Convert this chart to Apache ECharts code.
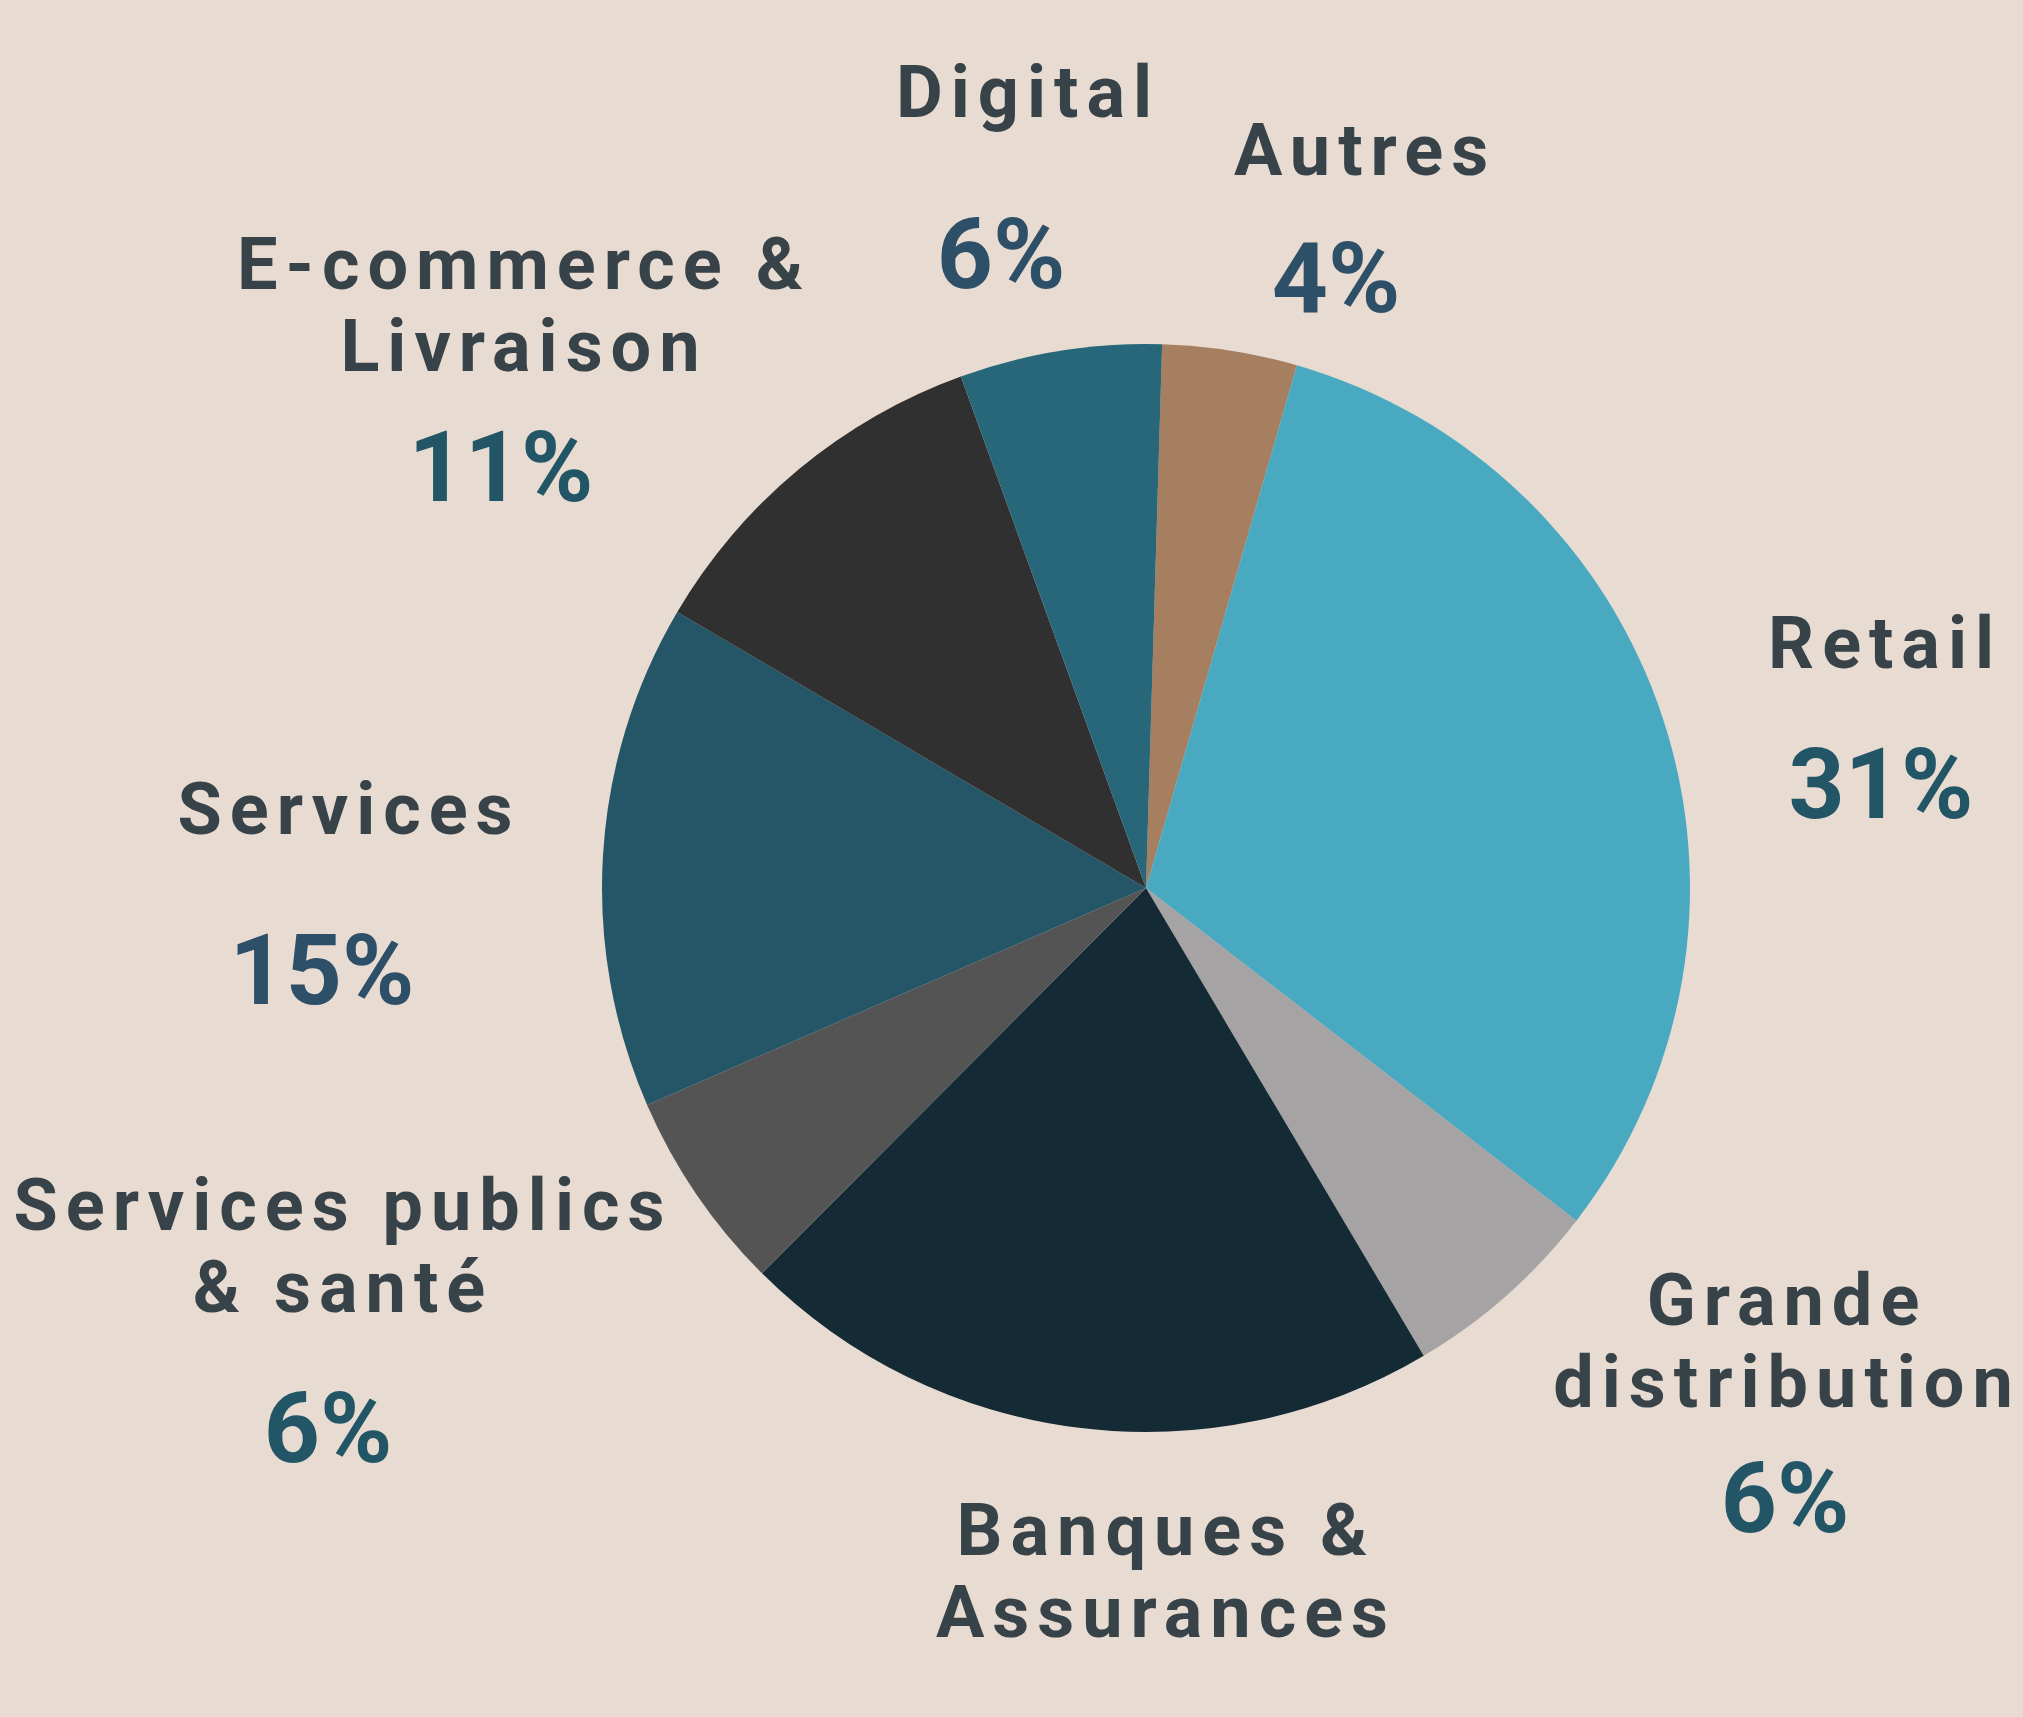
<!DOCTYPE html>
<html>
<head>
<meta charset="utf-8">
<title>Secteurs</title>
<script src="https://cdn.jsdelivr.net/npm/echarts@6/dist/echarts.min.js"></script>
<style>
  html, body { margin: 0; padding: 0; background: #e8dbd1; }
  #main { width: 2023px; height: 1717px; }
  /* noms des secteurs : lettres espacées */
  #main text[style*="72px"] { letter-spacing: 8px; }
</style>
</head>
<body>
<div id="main"></div>
<script>
// données
var sectors = ['Autres', 'Retail', 'Grande\ndistribution', 'Banques &\nAssurances',
  'Services publics\n& santé', 'Services', 'E-commerce &\nLivraison', 'Digital'];
var shares = [4, 31, 6, 21, 6, 15, 11, 6];
var showPct = [true, true, true, false, true, true, true, true];

// placement des étiquettes (px)
var nameX = [1365, 1885, 1787, 1166, 343, 349, 524, 1028];
var nameY = [150, 643, 1341, 1571, 1246, 809, 305, 92];
var pctX = [1336, 1881, 1785, 0, 328, 322, 501, 1001];
var pctY = [278, 784, 1498, 0, 1428, 970, 467, 254];

var sliceColors = ['#a67e60', '#48a9c1', '#a5a3a3', '#142a35', '#545454', '#245667', '#303030', '#28677a'];
var pctColors = ['#2e4f68', '#225565', '#225565', '#225565', '#225565', '#2e4f68', '#225565', '#2e4f68'];

var myChart = echarts.init(document.getElementById('main'), null, {renderer: 'svg'});

var pieData = sectors.map(function (s, i) {
  return {name: s, value: shares[i], itemStyle: {color: sliceColors[i]}};
});
var pctData = sectors.map(function (s, i) {
  return {
    name: s,
    value: shares[i],
    label: {show: showPct[i], color: pctColors[i]}
  };
});

var option = {
  backgroundColor: '#e8dbd1',
  animation: false,
  series: [
    {
      type: 'pie',
      center: [1146, 888],
      radius: 544,
      startAngle: 88.3,
      clockwise: true,
      avoidLabelOverlap: false,
      data: pieData,
      itemStyle: {borderWidth: 0},
      label: {
        show: true,
        position: 'outside',
        formatter: '{b}',
        fontFamily: 'Roboto',
        fontWeight: 'bold',
        fontSize: 72,
        lineHeight: 82,
        color: '#374349',
        align: 'center'
      },
      labelLine: {show: false},
      labelLayout: function (params) {
        return {x: nameX[params.dataIndex], y: nameY[params.dataIndex], align: 'center', verticalAlign: 'middle'};
      },
      emphasis: {disabled: true}
    },
    {
      type: 'pie',
      silent: true,
      center: [1146, 888],
      radius: 544,
      startAngle: 88.3,
      clockwise: true,
      avoidLabelOverlap: false,
      data: pctData,
      itemStyle: {color: 'rgba(0,0,0,0)'},
      label: {
        position: 'outside',
        formatter: '{c}%',
        fontFamily: 'Roboto',
        fontWeight: 'bold',
        fontSize: 98
      },
      labelLine: {show: false},
      labelLayout: function (params) {
        return {x: pctX[params.dataIndex], y: pctY[params.dataIndex], align: 'center', verticalAlign: 'middle'};
      },
      emphasis: {disabled: true}
    }
  ]
};

myChart.setOption(option);
</script>
</body>
</html>
